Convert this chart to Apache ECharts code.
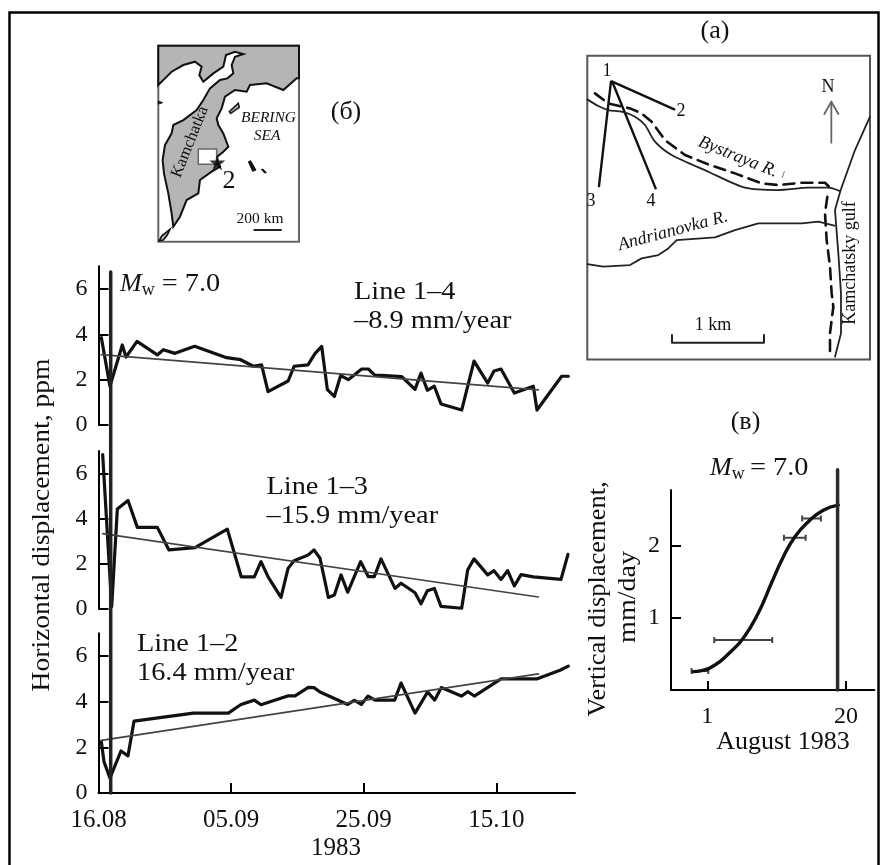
<!DOCTYPE html>
<html><head><meta charset="utf-8">
<style>html,body{margin:0;padding:0;background:#fff}#c{width:880px;height:865px}</style>
<script src="https://cdn.jsdelivr.net/npm/echarts@6/dist/echarts.min.js"></script>
</head><body><div id="c"></div>
<script>
// ---------- main time-series panel (days since 16.08, ppm) ----------
const dateTickDays = [0, 20, 40, 60];
const dateTickLabels = ['16.08', '05.09', '25.09', '15.10'];
const ppmTicks = [0, 2, 4, 6];
const eventDay = 1.84;
const line14 = [[0.43,3.85],[1.73,1.71],[3.59,3.53],[4.15,3.0],[5.81,3.69],[8.87,3.09],[9.78,3.32],[11.54,3.16],[14.5,3.47],[19.33,2.97],[21.44,2.88],[23.35,2.59],[24.6,2.65],[25.57,1.47],[28.6,1.94],[29.5,2.59],[31.6,2.65],[32.65,3.15],[33.66,3.47],[34.52,1.56],[35.57,1.26],[36.53,2.18],[37.68,2.0],[39.69,2.47],[40.7,2.47],[41.71,2.19],[42.71,2.19],[45.73,2.13],[47.74,1.57],[48.64,2.29],[49.6,1.53],[50.65,1.71],[51.66,0.93],[54.78,0.66],[56.64,2.82],[58.7,1.85],[59.65,2.38],[60.71,2.47],[62.72,1.41],[65.59,1.71],[66.14,0.66],[69.86,2.15],[70.87,2.15]];
const trend14 = [[0.43,3.1],[66.34,1.55]];
const line13 = [[0.63,6.84],[1.99,0.09],[2.84,4.43],[4.45,4.8],[5.86,3.61],[8.87,3.61],[10.63,2.61],[14.56,2.71],[19.43,3.53],[21.54,1.41],[23.5,1.41],[24.51,2.09],[25.62,1.39],[27.53,0.5],[28.59,1.79],[29.5,2.13],[31.65,2.39],[32.5,2.61],[33.41,2.24],[34.67,0.5],[35.57,0.61],[36.58,1.5],[37.58,0.73],[39.54,2.09],[40.7,1.42],[41.6,1.42],[42.61,2.21],[44.72,0.9],[45.63,1.13],[47.74,0.71],[48.64,0.22],[49.6,0.8],[50.65,0.9],[51.66,0.1],[54.78,0.02],[55.68,1.72],[56.64,2.21],[58.7,1.5],[59.65,1.69],[60.71,1.3],[61.71,1.69],[62.72,1.01],[63.73,1.51],[65.59,1.41],[69.76,1.3],[70.81,2.41]];
const trend13 = [[0.63,3.33],[66.34,0.52]];
const line12 = [[0.43,2.25],[0.83,1.37],[1.73,0.65],[3.39,1.84],[4.45,1.63],[5.36,3.15],[14.3,3.5],[19.58,3.5],[21.49,3.88],[23.5,4.07],[24.51,3.87],[28.64,4.26],[29.64,4.26],[31.65,4.63],[32.5,4.62],[33.41,4.43],[37.58,3.88],[38.59,4.06],[39.64,3.88],[40.65,4.25],[41.71,4.07],[44.67,4.07],[45.63,4.82],[47.74,3.5],[49.65,4.43],[50.7,4.07],[51.71,4.62],[54.73,4.25],[55.73,4.44],[56.69,4.25],[60.71,5.0],[66.09,5.0],[69.61,5.38],[70.87,5.56]];
const trend12 = [[0.43,2.31],[66.34,5.22]];

// ---------- vertical displacement panel (в) ----------
const augTicks = [1, 20];
const vertTicks = [1, 2];
const vertCurve = [[-0.92,0.255],[0.22,0.269],[2.05,0.347],[3.88,0.5],[5.93,0.72],[7.99,1.07],[9.81,1.49],[11.41,1.85],[13.01,2.13],[14.84,2.34],[16.89,2.5],[18.95,2.57]];
const vertErrors = [[0.264,-1.15,1.14],[0.694,1.96,9.9],[2.116,11.5,14.47],[2.384,14.0,16.57]];
const vertEvent = [[18.85,0],[18.85,3.06]];

// ---------- location map (б), map units ----------
const landOutline = [[55,165],[75,145],[95,125],[130,105],[165,95],[185,110],[178,135],[190,155],[220,130],[250,110],[258,75],[285,65],[310,72],[285,80],[275,105],[280,130],[262,145],[240,150],[210,175],[190,210],[170,240],[130,270],[100,285],[95,310],[75,345],[68,390],[72,430],[85,490],[95,550],[100,590],[120,560],[140,510],[175,490],[180,450],[215,425],[240,410],[225,385],[250,365],[265,350],[250,310],[235,285],[230,265],[245,235],[255,200],[285,180],[320,185],[330,165],[380,160],[430,180],[470,145],[477,145],[477,47],[55,47]];
const karaginsky = [[268,245],[295,220],[298,232],[272,250]];
const tipIsland = [[58,632],[65,618],[90,598],[82,615],[70,630]];
const westIsle = [[55,213],[68,218],[55,222]];
const commanderA = [[325,395],[332,392],[348,420],[338,424]];
const commanderB = [[364,418],[370,418],[379,428],[374,429]];
const studyBox = [[175,357],[230,357],[230,403],[175,403]];
const epicentre = [[232,397]];
const scaleBarB = [[343,600],[423,600]];

// ---------- site map (а), map units ----------
const baseline12 = [[112,125],[298,208]];
const baseline13 = [[108,125],[72,438]];
const baseline14 = [[112,125],[242,445]];
const bystraya = [[37,178],[70,198],[100,210],[140,215],[180,230],[210,255],[240,305],[290,345],[400,395],[510,443],[610,450],[700,443],[760,443],[795,453]];
const roadNorth = [[60,160],[100,190],[165,205],[200,220],[230,245],[270,300],[330,345],[400,373],[480,400],[560,430],[610,435],[680,428],[750,428],[762,440]];
const roadCoast = [[757,470],[750,520],[755,600],[765,680],[770,760],[775,800],[765,880],[765,945]];
const andrianovka = [[37,672],[85,680],[165,675],[200,655],[250,645],[280,625],[305,600],[420,592],[480,570],[550,550],[680,550],[730,545],[778,557]];
const coast = [[885,230],[840,330],[797,450],[780,510],[790,640],[798,760],[798,880],[780,950]];
const northStem = [[769,308],[769,185]];
const northHead = [[748,222],[769,185],[790,222]];
const scaleBarA = [[291,885],[291,908],[567,908],[567,885]];
const riverMark = [[628,395],[622,412]];

// ---------- drawing ----------
const FONT = '"Liberation Serif","Times New Roman",serif';
const INK = '#111';
const chart = echarts.init(document.getElementById('c'), null, {renderer:'canvas'});

const hidden = (min, max, inverse) => ({type:'value', min, max, inverse:!!inverse, show:false, scale:true});
function tsGrid(top, bottom) { return {left:98.5, width:476.5, top, height:bottom-top, containLabel:false, show:false}; }
const dayX = {type:'value', min:0, max:71.87};
function ppmY() {
  return {type:'value', min:0, max:7, splitLine:{show:false},
    axisLine:{show:true, onZero:false, lineStyle:{color:'#000', width:2}},
    axisTick:{show:true, inside:true, length:10, customValues:ppmTicks, lineStyle:{color:'#000', width:2}},
    axisLabel:{show:true, customValues:ppmTicks, margin:11, color:INK, fontFamily:FONT, fontSize:24, padding:[9,0,0,0]}};
}
const grids = [
  tsGrid(266.3,425), tsGrid(451,608.7), tsGrid(633.3,793),
  {left:98.5, width:476.5, top:272, height:521, show:false},
  {left:671, width:203.3, top:490, height:200, show:false},
  {left:158.3, width:140.7, top:45.7, height:196, show:true, backgroundColor:'#fff', borderColor:'#666', borderWidth:2},
  {left:587.3, width:282.7, top:55.7, height:303.7, show:true, backgroundColor:'#fff', borderColor:'#555', borderWidth:2}
];
const xAxes = [
  {...dayX, gridIndex:0, show:false},
  {...dayX, gridIndex:1, show:false},
  {...dayX, gridIndex:2, splitLine:{show:false},
    axisLine:{show:true, lineStyle:{color:'#000', width:2}},
    axisTick:{show:true, inside:true, length:10, customValues:dateTickDays, lineStyle:{color:'#000', width:2}},
    axisLabel:{show:true, customValues:dateTickDays, margin:15, color:INK, fontFamily:FONT, fontSize:25,
      formatter:v=>dateTickLabels[dateTickDays.indexOf(v)]||''}},
  {...dayX, gridIndex:3, show:false},
  {type:'value', gridIndex:4, min:-3.97, max:23.88, splitLine:{show:false},
    axisLine:{show:true, lineStyle:{color:'#000', width:2}},
    axisTick:{show:true, inside:true, length:9, customValues:augTicks, lineStyle:{color:'#000', width:2}},
    axisLabel:{show:true, customValues:augTicks, margin:15, color:INK, fontFamily:FONT, fontSize:24}},
  {...hidden(55,477), gridIndex:5},
  {...hidden(37,885), gridIndex:6}
];
const yAxes = [
  {...ppmY(), gridIndex:0}, {...ppmY(), gridIndex:1}, {...ppmY(), gridIndex:2},
  {...hidden(0,1), gridIndex:3},
  {type:'value', gridIndex:4, min:0, max:2.78, splitLine:{show:false},
    axisLine:{show:true, onZero:false, lineStyle:{color:'#000', width:2}},
    axisTick:{show:true, inside:true, length:10, customValues:vertTicks, lineStyle:{color:'#000', width:2}},
    axisLabel:{show:true, customValues:vertTicks, margin:11, color:INK, fontFamily:FONT, fontSize:24, padding:[9,0,0,0]}},
  {...hidden(47,635,true), gridIndex:5},
  {...hidden(47,958,true), gridIndex:6}
];
function line(g, data, width, color, extra) {
  return Object.assign({type:'line', xAxisIndex:g, yAxisIndex:g, data, symbol:'none', clip:false, silent:true,
    lineStyle:Object.assign({width, color, join:'round', cap:'round'}, (extra||{}).ls||{})}, (extra||{}).s||{});
}
function poly(g, pts, fill, stroke, lw, z) {
  return {type:'custom', xAxisIndex:g, yAxisIndex:g, data:pts, clip:false, silent:true, z:z||1,
    encode:{x:0,y:1},
    renderItem(params, api){
      if (params.dataIndex!==0) return;
      return {type:'polygon', shape:{points:pts.map(p=>api.coord(p))},
        style:{fill, stroke:stroke||null, lineWidth:lw||0}};
    }};
}
function errorBars(g, rows) {
  return {type:'custom', xAxisIndex:g, yAxisIndex:g, data:rows, clip:false, silent:true, z:3,
    encode:{x:[1,2],y:0},
    renderItem(params, api){
      const y=api.value(0), a=api.coord([api.value(1),y]), b=api.coord([api.value(2),y]);
      const st={stroke:'#444', lineWidth:2, fill:null};
      return {type:'group', children:[
        {type:'line', shape:{x1:a[0],y1:a[1],x2:b[0],y2:b[1]}, style:st},
        {type:'line', shape:{x1:a[0],y1:a[1]-3,x2:a[0],y2:a[1]+3}, style:st},
        {type:'line', shape:{x1:b[0],y1:b[1]-3,x2:b[0],y2:b[1]+3}, style:st}]};
    }};
}
const DASH = {ls:{type:[11,7]}};
const series = [
  line(0,line14,3.2,INK), line(0,trend14,1.7,'#444'),
  line(1,line13,3.2,INK), line(1,trend13,1.7,'#444'),
  line(2,line12,3.2,INK), line(2,trend12,1.7,'#444'),
  line(3,[[eventDay,0],[eventDay,1]],3.5,'#222',{s:{z:4}}),
  line(4,vertCurve,3.4,INK,{s:{smooth:true,z:4}}),
  errorBars(4,vertErrors),
  line(4,vertEvent,3.5,'#2a2a2a',{s:{z:4}}),
  poly(5,landOutline,'#b5b5b5','#111',2),
  poly(5,karaginsky,'#b5b5b5','#222',1.6),
  poly(5,tipIsland,'#b5b5b5','#111',1.6),
  poly(5,westIsle,'#333','#111',1),
  poly(5,commanderA,'#111','#111',1),
  poly(5,commanderB,'#111','#111',1),
  poly(5,studyBox,'#fff','#666',1.5,2),
  {type:'scatter', xAxisIndex:5, yAxisIndex:5, data:epicentre, z:5, silent:true, clip:false,
    symbol:'path://M50 0 L61 35 L98 35 L68 57 L79 91 L50 70 L21 91 L32 57 L2 35 L39 35 Z', symbolSize:16,
    itemStyle:{color:'#000'}},
  line(5,scaleBarB,2,'#222'),
  line(6,baseline12,2.4,INK), line(6,baseline13,2.4,INK), line(6,baseline14,2.4,INK),
  line(6,bystraya,1.8,'#222',{s:{smooth:0.25}}),
  line(6,roadNorth,2.6,INK,DASH),
  line(6,roadCoast,2.6,INK,DASH),
  line(6,andrianovka,1.8,'#222'),
  line(6,coast,1.8,'#222'),
  line(6,northStem,1.8,'#666'), line(6,northHead,1.8,'#666'),
  line(6,scaleBarA,2,'#222'),
  line(6,riverMark,0.8,'#555')
];
function T(x, y, text, size, o) {
  o=o||{};
  return {type:'text', x, y, z:20, silent:true, rotation:(o.rot||0)*Math.PI/180, scaleX:o.sx||1,
    style:{text, fill:INK, fontFamily:FONT, fontSize:size, fontStyle:o.it?'italic':'normal',
      align:o.align||'center', verticalAlign:'middle'}};
}
const graphic = [
  {type:'polyline', z:19, silent:true, shape:{points:[[9.5,866],[9.5,12.5],[878.5,12.5],[878.5,866]]}, style:{stroke:'#000', lineWidth:2.5, fill:null}},
  T(42,525,'Horizontal displacement, ppm',26,{rot:90,sx:1.06}),
  T(120,284,'M',26,{align:'left',it:true}),
  T(141.7,290,'w',18,{align:'left'}),
  T(161.7,284,'= 7.0',26,{align:'left',sx:1.09}),
  T(354,292,'Line 1\u20134',26,{align:'left',sx:1.09}),
  T(354,321,'\u20138.9 mm/year',26,{align:'left',sx:1.09}),
  T(266.5,487,'Line 1\u20133',26,{align:'left',sx:1.09}),
  T(266.5,516,'\u201315.9 mm/year',26,{align:'left',sx:1.09}),
  T(137,644,'Line 1\u20132',26,{align:'left',sx:1.09}),
  T(137,673,'16.4 mm/year',26,{align:'left',sx:1.09}),
  T(336,848,'1983',25),
  T(715,31,'(a)',26),
  T(346,112,'(\u0431)',26),
  T(745.5,422,'(\u0432)',26),
  T(710,468,'M',26,{align:'left',it:true}),
  T(731.7,474,'w',18,{align:'left'}),
  T(750,468,'= 7.0',26,{align:'left',sx:1.09}),
  T(598,599,'Vertical displacement,',25,{rot:90,sx:1.06}),
  T(628,597,'mm/day',25,{rot:90,sx:1.12}),
  T(783,742,'August 1983',25,{sx:1.04}),
  // map (б) labels
  T(190,142,'Kamchatka',16.5,{rot:68}),
  T(268.5,118,'BERING',15.5,{it:true}),
  T(267,136,'SEA',15.5,{it:true}),
  T(229,181,'2',26),
  T(260,219,'200 km',15.5),
  // map (а) labels
  T(607,71,'1',18), T(681,111,'2',18), T(591,201,'3',18), T(651,201,'4',18),
  T(828,87,'N',18),
  T(738,157,'Bystraya R.',18,{it:true,rot:-22}),
  T(673,231,'Andrianovka R.',18,{it:true,rot:15}),
  T(850,263,'Kamchatsky gulf',18,{rot:90}),
  T(713,325,'1 km',18)
];
chart.setOption({animation:false, backgroundColor:'#fff', grid:grids, xAxis:xAxes, yAxis:yAxes, series, graphic});
</script></body></html>
